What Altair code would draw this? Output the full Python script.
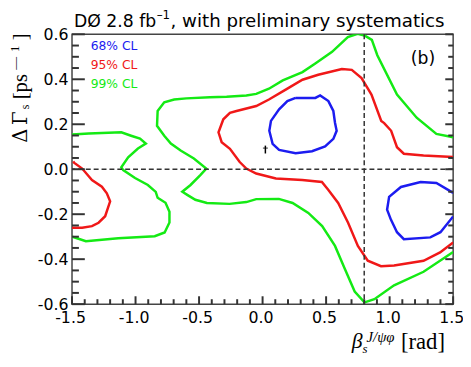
import altair as alt
import pandas as pd

# ---------------- data ----------------
levels = ["68% CL", "95% CL", "99% CL"]
level_colors = ["#1c1cf0", "#f01818", "#14ea14"]

b1_x = [0.260, 0.415, 0.453, 0.518, 0.557, 0.570, 0.583, 0.557, 0.492, 0.389, 0.260, 0.130, 0.079, 0.053, 0.066, 0.130, 0.195, 0.260]
b1_y = [0.317, 0.317, 0.328, 0.303, 0.259, 0.207, 0.171, 0.135, 0.101, 0.080, 0.071, 0.086, 0.113, 0.171, 0.215, 0.266, 0.303, 0.317]
b2_x = [1.5, 1.368, 1.244, 1.089, 0.996, 0.980, 1.010, 1.058, 1.112, 1.320, 1.400, 1.5]
b2_y = [-0.105, -0.061, -0.057, -0.079, -0.123, -0.180, -0.224, -0.280, -0.311, -0.303, -0.280, -0.210]
r1_x = [1.5, 1.267, 1.112, 1.058, 1.012, 0.957, 0.934, 0.857, 0.779, 0.702, 0.624, 0.438, 0.314, 0.182, 0.050, -0.050, -0.205,
        -0.257, -0.309, -0.347, -0.322, -0.257, -0.180, -0.128, -0.050, 0.105, 0.312, 0.467, 0.518, 0.595, 0.673, 0.750,
        0.828, 0.932, 1.035, 1.267, 1.397, 1.5]
r1_y = [0.054, 0.061, 0.069, 0.098, 0.171, 0.205, 0.215, 0.332, 0.405, 0.442, 0.446, 0.420, 0.398, 0.354, 0.310, 0.281, 0.259,
        0.251, 0.222, 0.164, 0.120, 0.091, 0.032, 0.003, -0.019, -0.041, -0.048, -0.057, -0.092, -0.150, -0.238, -0.341,
        -0.407, -0.431, -0.428, -0.407, -0.370, -0.326]
r2_x = [-1.49, -1.484, -1.420, -1.343, -1.265, -1.226, -1.200, -1.239, -1.291, -1.343, -1.420, -1.5]
r2_y = [0.035, 0.029, 0.003, -0.048, -0.078, -0.107, -0.143, -0.209, -0.238, -0.253, -0.260, -0.260]
g1_x = [-1.5, -1.368, -1.112, -1.035, -0.965, -0.919, -0.981, -1.058, -1.112, -1.097, -1.004, -0.903, -0.841, -0.826,
        -0.764, -0.733, -0.733, -0.771, -0.849, -1.136, -1.391, -1.461, -1.5]
g1_y = [0.154, 0.159, 0.164, 0.149, 0.136, 0.114, 0.092, 0.053, 0.009, -0.004, -0.039, -0.070, -0.101, -0.127,
        -0.149, -0.189, -0.237, -0.281, -0.298, -0.307, -0.320, -0.307, -0.300]
g2_x = [1.5, 1.368, 1.213, 1.058, 0.903, 0.860, 0.802, 0.748, 0.671, 0.547, 0.415, 0.314, 0.159, 0.050, -0.050, -0.128,
        -0.283, -0.415, -0.600, -0.696, -0.774, -0.826, -0.831, -0.774, -0.722, -0.645, -0.541, -0.443, -0.490, -0.567,
        -0.632, -0.593, -0.529, -0.438, -0.260, -0.128, -0.050, 0.128, 0.236, 0.360, 0.469, 0.570, 0.647, 0.725, 0.802,
        0.880, 1.035, 1.267, 1.5]
g2_y = [0.142, 0.157, 0.229, 0.332, 0.507, 0.575, 0.595, 0.602, 0.588, 0.522, 0.470, 0.432, 0.395, 0.358, 0.335, 0.328,
        0.322, 0.320, 0.315, 0.310, 0.298, 0.259, 0.193, 0.149, 0.114, 0.083, 0.048, 0.003, -0.026, -0.070,
        -0.100, -0.114, -0.136, -0.150, -0.154, -0.146, -0.133, -0.132, -0.150, -0.194, -0.253, -0.341, -0.443, -0.544, -0.592,
        -0.578, -0.516, -0.456, -0.368]

err_x = [0.022]
err_lo = [0.070]
err_hi = [0.105]
err_cap_y = [0.094]

vline_x = [0.8]
hline_y = [0.0]

x_major = [-1.5, -1.0, -0.5, 0.0, 0.5, 1.0, 1.5]
y_major = [-0.6, -0.4, -0.2, 0.0, 0.2, 0.4, 0.6]
x_minor = [round(-1.5 + 0.1 * i, 2) for i in range(31)]
y_minor = [round(-0.6 + 0.05 * i, 3) for i in range(25)]
X0, X1 = -1.5, 1.5
Y0, Y1 = -0.6, 0.6

rows = []
for name, lev, xs_, ys_ in [("b1", levels[0], b1_x, b1_y), ("b2", levels[0], b2_x, b2_y),
                            ("r1", levels[1], r1_x, r1_y), ("r2", levels[1], r2_x, r2_y),
                            ("g1", levels[2], g1_x, g1_y), ("g2", levels[2], g2_x, g2_y)]:
    for i, (a, b) in enumerate(zip(xs_, ys_)):
        rows.append({"x": a, "y": b, "seg": name, "level": lev, "idx": i})
df = pd.DataFrame(rows)

W, H = 387, 274
AX = "#444444"
TK = "#333333"
SANS = "DejaVu Sans"
SERIF = "Liberation Serif"
DSERIF = "DejaVu Serif"
PX_X = (X1 - X0) / W
PX_Y = (Y1 - Y0) / H

tick_rows = []
for v in x_minor:
    major = any(abs(v - m) < 1e-9 for m in x_major)
    L = 8 if major else 5
    tick_rows.append({"tx": v, "tx2": v, "ty": Y0, "ty2": Y0 + L * PX_Y})
for v in y_minor:
    major = any(abs(v - m) < 1e-9 for m in y_major)
    L = 13 if major else 7
    R = 8 if major else 5
    tick_rows.append({"tx": X0, "tx2": X0 + L * PX_X, "ty": v, "ty2": v})
    tick_rows.append({"tx": X1, "tx2": X1 - R * PX_X, "ty": v, "ty2": v})
ticks_df = pd.DataFrame(tick_rows)

lab_expr = "datum.value < -0.0001 ? '-' + format(-datum.value, '.1f') : format(abs(datum.value), '.1f')"

xs = alt.Scale(domain=[X0, X1], nice=False, zero=False)
ys = alt.Scale(domain=[Y0, Y1], nice=False, zero=False)

xaxis = alt.Axis(values=x_major, labelExpr=lab_expr, ticks=False, domain=False, grid=False,
                 labelFlush=False, labelOverlap=False, labelOffset=-2,
                 labelFontSize=16, labelFont=SANS, labelColor="black", labelPadding=6, title=None)
yaxis = alt.Axis(values=y_major, labelExpr=lab_expr, ticks=False, domain=False, grid=False,
                 labelFlush=False, labelOverlap=False,
                 labelFontSize=16, labelFont=SANS, labelColor="black", labelPadding=4, title=None)

lines = alt.Chart(df).mark_line(strokeWidth=2.5, clip=True).encode(
    x=alt.X("x:Q", scale=xs, axis=xaxis),
    y=alt.Y("y:Q", scale=ys, axis=yaxis),
    color=alt.Color("level:N", scale=alt.Scale(domain=levels, range=level_colors), legend=None),
    detail="seg:N",
    order="idx:Q",
)

tick_layer = alt.Chart(ticks_df).mark_rule(color=TK, strokeWidth=2).encode(
    x=alt.X("tx:Q", scale=xs, axis=xaxis), x2="tx2:Q",
    y=alt.Y("ty:Q", scale=ys, axis=yaxis), y2="ty2:Q")

vline = alt.Chart(pd.DataFrame({"x": vline_x})).mark_rule(strokeDash=[5, 3], color="#333333", strokeWidth=1.5).encode(
    x=alt.X("x:Q", scale=xs, axis=xaxis))
hline = alt.Chart(pd.DataFrame({"y": hline_y})).mark_rule(strokeDash=[5, 3], color="#333333", strokeWidth=1.5).encode(
    y=alt.Y("y:Q", scale=ys, axis=yaxis))

err_df = pd.DataFrame({"x": err_x, "y": err_lo, "y2": err_hi, "yc": err_cap_y})
err = alt.Chart(err_df).mark_rule(color="black", strokeWidth=1.5).encode(
    x=alt.X("x:Q", scale=xs, axis=xaxis), y=alt.Y("y:Q", scale=ys, axis=yaxis), y2="y2:Q")
err_cap = alt.Chart(err_df).mark_tick(color="black", thickness=1.2, size=5, orient="horizontal").encode(
    x=alt.X("x:Q", scale=xs, axis=xaxis), y=alt.Y("yc:Q", scale=ys, axis=yaxis))


def txt(s, x, y, size, font=SANS, color="black", angle=0, style="normal", align="left"):
    return alt.Chart(pd.DataFrame({"t": [s]})).mark_text(
        text=s, font=font, fontSize=size, color=color, angle=angle, fontStyle=style,
        align=align, baseline="alphabetic").encode(x=alt.value(x), y=alt.value(y))


texts = [
    txt("DØ 2.8 fb", 2, -7, 17.5),
    txt("–1", 86, -16, 12),
    txt(", with preliminary systematics", 100, -7, 18.5),
    txt("68% CL", 19, 16, 12.5, color=level_colors[0]),
    txt("95% CL", 19, 35, 12.5, color=level_colors[1]),
    txt("99% CL", 19, 55, 12.5, color=level_colors[2]),
    txt("(b)", 344, 30, 17.5),
    txt("Δ", -46, 110, 20, font=DSERIF, angle=270),
    txt("Γ", -46, 92, 20, font=DSERIF, angle=270),
    txt("s", -44, 76, 12, font=SERIF, angle=270),
    txt("[ps", -46, 66, 21, font=SERIF, angle=270),
    txt("—", -54, 36, 13, font=SERIF, angle=270),
    txt("1", -54, 18, 13, font=SERIF, angle=270),
    txt("]", -46, 6, 21, font=SERIF, angle=270),
    txt("β", 284, 319, 22, font=SERIF, style="italic"),
    txt("s", 295, 324, 13, font=SERIF, style="italic"),
    txt("J/ψφ", 299, 312, 15, font=SERIF, style="italic"),
    txt("[rad]", 334, 320, 23, font=SERIF),
]

chart = alt.layer(
    lines, vline, hline, err, err_cap, tick_layer,
    *texts,
).properties(
    width=W, height=H, autosize="none",
    padding={"left": 65, "top": 24, "right": 10, "bottom": 54},
    background="white",
).configure_view(stroke=AX, strokeWidth=1.5)

chart.save("out.html", embed_options={"renderer": "svg", "actions": False})
